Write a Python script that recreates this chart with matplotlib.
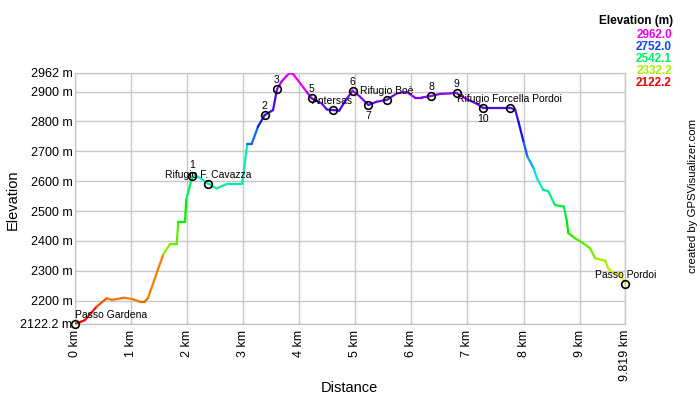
import matplotlib
matplotlib.use('Agg')
matplotlib.rcParams['font.family'] = ['Liberation Sans', 'DejaVu Sans']
matplotlib.rcParams['font.size'] = 9
import numpy as np
import matplotlib.pyplot as plt
from matplotlib.collections import LineCollection
from matplotlib.colors import to_rgb, rgb_to_hsv, hsv_to_rgb

# track profile (km, m)
dist = [0.00, 0.17, 0.38, 0.56, 0.65, 0.88, 1.03, 1.15, 1.24, 1.30, 1.57,
        1.69, 1.81, 1.84, 1.96, 1.98, 2.09, 2.19, 2.37, 2.52, 2.70, 2.95, 2.98,
        3.07, 3.15, 3.26, 3.38, 3.53, 3.60, 3.68, 3.77, 3.83, 3.89, 4.13, 4.22,
        4.40, 4.49, 4.60, 4.71, 4.83, 4.95, 5.08, 5.23, 5.38, 5.56, 5.74, 5.91,
        6.06, 6.18, 6.35, 6.51, 6.72, 6.81, 6.99, 7.16, 7.27, 7.40, 7.75, 7.85,
        7.91, 8.00, 8.07, 8.18, 8.24, 8.35, 8.44, 8.56, 8.72, 8.77, 8.80, 8.92,
        9.07, 9.19, 9.28, 9.46, 9.51, 9.60, 9.72, 9.819]
elev = [2122.2, 2135, 2180, 2208, 2203, 2210, 2205, 2197, 2197, 2210, 2355,
        2389, 2389, 2464, 2464, 2537, 2617, 2615, 2592, 2576, 2590, 2590, 2592,
        2725, 2725, 2782, 2821, 2838, 2907, 2933, 2952, 2962, 2958, 2899, 2877,
        2860, 2840, 2838, 2836, 2872, 2903, 2883, 2855, 2866, 2872, 2894, 2899,
        2880, 2880, 2885, 2892, 2894, 2894, 2874, 2860, 2846, 2846, 2846, 2840,
        2799, 2732, 2682, 2643, 2610, 2571, 2567, 2520, 2515, 2470, 2426, 2409,
        2392, 2375, 2342, 2334, 2309, 2294, 2290, 2255]

# waypoints
wp_dist = [0.0, 2.09, 2.37, 3.38, 3.60, 4.22, 4.60, 4.95, 5.23, 5.56, 6.35, 6.81, 7.27, 7.75, 9.819]
wp_elev = [2122.2, 2617, 2592, 2821, 2907, 2877, 2838, 2903, 2855, 2872, 2885, 2894, 2846, 2846, 2255]
wp_name = ['Passo Gardena', '1', 'Rifugio F. Cavazza', '2', '3', '5', 'Antersas', '6', '7',
           'Rifugio Boè', '8', '9', '10', 'Rifugio Forcella Pordoi', 'Passo Pordoi']
wp_below = ['7', '10']

emin, emax = 2122.2, 2962.0
legend_vals = [2962.0, 2752.0, 2542.1, 2332.2, 2122.2]
legend_cols = ['#ee00ee', '#1144ee', '#00ee66', '#aaee00', '#ee0000']
yticks = [2122.2, 2200, 2300, 2400, 2500, 2600, 2700, 2800, 2900, 2962]
xticks = [0, 1, 2, 3, 4, 5, 6, 7, 8, 9, 9.819]
xtick_labels = ['0 km', '1 km', '2 km', '3 km', '4 km', '5 km', '6 km', '7 km', '8 km', '9 km', '9.819 km']

# colour scale: interpolate hue between the legend swatches
node_v = np.array(legend_vals[::-1])
node_hsv = rgb_to_hsv(np.array([to_rgb(c) for c in legend_cols[::-1]]))


def elev_color(v):
    h = np.interp(v, node_v, node_hsv[:, 0])
    s = np.interp(v, node_v, node_hsv[:, 1])
    b = np.interp(v, node_v, node_hsv[:, 2])
    return hsv_to_rgb([h, s, b])


fig = plt.figure(figsize=(7, 4), dpi=100)
ax = fig.add_axes([0.1075, 0.19, 0.786, 0.6275])

d = np.array(dist)
e = np.array(elev)
segs = [[(d[i], e[i]), (d[i + 1], e[i + 1])] for i in range(len(d) - 1)]
# each leg takes the colour of its starting point
cols = [elev_color(e[i]) for i in range(len(d) - 1)]
lc = LineCollection(segs, colors=cols, linewidths=1.6, zorder=3, capstyle='round')
ax.add_collection(lc)

ax.plot(wp_dist, wp_elev, 'o', ms=5.5, mfc='none', mec='black', mew=1.2, zorder=4, clip_on=False)
for x, y, name in zip(wp_dist, wp_elev, wp_name):
    dy = -11 if name in wp_below else 9
    if name == '1':
        dy = 11
    ha = 'left' if name == 'Passo Gardena' else 'center'
    ax.annotate(name, (x, y), xytext=(0, dy), textcoords='offset pixels',
                ha=ha, va='center', fontsize=7.5, zorder=5)

ax.set_xlim(0, 9.819)
ax.set_ylim(emin, emax)
ax.set_xticks(xticks)
ax.set_xticklabels(xtick_labels, rotation=90)
ax.set_yticks(yticks)
ax.set_yticklabels(['%g m' % v for v in yticks])
ax.tick_params(length=0, labelsize=9)
ax.tick_params(axis='y', pad=2)
ax.tick_params(axis='x', pad=4)
ax.grid(True, color='#c8c8c8', linewidth=1)
for s in ax.spines.values():
    s.set_color('#c8c8c8')
    s.set_linewidth(1)

fig.text(13 / 700, 1 - 200 / 400, 'Elevation', rotation=90, ha='center', va='center', fontsize=10.5)
fig.text(349 / 700, 1 - 388 / 400, 'Distance', ha='center', va='center', fontsize=10.5)

fig.text(673 / 700, 1 - 21 / 400, 'Elevation (m)', ha='right', va='center', fontsize=8.5, fontweight='bold')
for i, (v, c) in enumerate(zip(legend_vals, legend_cols)):
    fig.text(672 / 700, 1 - (35 + 12 * i) / 400, '%.1f' % v, ha='right', va='center',
             fontsize=8.5, fontweight='bold', color=c)

fig.text(693 / 700, 1 - 196 / 400, 'created by GPSVisualizer.com', rotation=90,
         ha='center', va='center', fontsize=8.2)

fig.savefig('out.png', dpi=100)
plt.close()
